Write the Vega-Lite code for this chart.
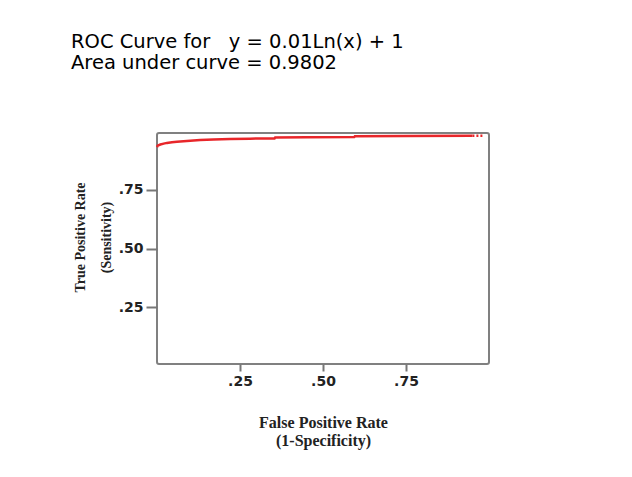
{
  "$schema": "https://vega.github.io/schema/vega-lite/v6.json",
  "width": 332,
  "height": 231,
  "autosize": "none",
  "padding": {"left": 157, "top": 133, "right": 143, "bottom": 113},
  "background": "white",
  "title": {
    "text": ["ROC Curve for \u00a0\u00a0y = 0.01Ln(x) + 1", "Area under curve = 0.9802"],
    "anchor": "start",
    "frame": "group",
    "dx": -86,
    "offset": 57,
    "font": "DejaVu Sans",
    "fontSize": 19.5,
    "fontWeight": "normal",
    "color": "#000000",
    "lineHeight": 21
  },
  "data": {
    "values": [
      {"fpr": 0, "tpr": 0.93, "seg": "main"},
      {"fpr": 0.002, "tpr": 0.936, "seg": "main"},
      {"fpr": 0.01, "tpr": 0.941, "seg": "main"},
      {"fpr": 0.02, "tpr": 0.945, "seg": "main"},
      {"fpr": 0.03, "tpr": 0.948, "seg": "main"},
      {"fpr": 0.045, "tpr": 0.951, "seg": "main"},
      {"fpr": 0.06, "tpr": 0.953, "seg": "main"},
      {"fpr": 0.08, "tpr": 0.955, "seg": "main"},
      {"fpr": 0.1, "tpr": 0.957, "seg": "main"},
      {"fpr": 0.13, "tpr": 0.96, "seg": "main"},
      {"fpr": 0.17, "tpr": 0.962, "seg": "main"},
      {"fpr": 0.22, "tpr": 0.965, "seg": "main"},
      {"fpr": 0.28, "tpr": 0.966, "seg": "main"},
      {"fpr": 0.354, "tpr": 0.967, "seg": "main"},
      {"fpr": 0.356, "tpr": 0.971, "seg": "main"},
      {"fpr": 0.45, "tpr": 0.972, "seg": "main"},
      {"fpr": 0.594, "tpr": 0.973, "seg": "main"},
      {"fpr": 0.596, "tpr": 0.976, "seg": "main"},
      {"fpr": 0.75, "tpr": 0.977, "seg": "main"},
      {"fpr": 0.95, "tpr": 0.978, "seg": "main"},
      {"fpr": 0.95, "tpr": 0.978, "seg": "tail"},
      {"fpr": 0.985, "tpr": 0.978, "seg": "tail"}
    ]
  },
  "encoding": {
    "x": {
      "field": "fpr",
      "type": "quantitative",
      "scale": {"domain": [0, 1], "nice": false, "zero": false},
      "axis": {
        "values": [0.25, 0.5, 0.75],
        "labelExpr": "substring(format(datum.value, '.2f'), 1)",
        "domain": false,
        "grid": false,
        "tickSize": 7,
        "tickWidth": 2,
        "tickColor": "#777777",
        "labelFont": "DejaVu Sans",
        "labelFontWeight": "bold",
        "labelFontSize": 14,
        "labelColor": "#222222",
        "labelPadding": 3,
        "title": ["False Positive Rate", "(1-Specificity)"],
        "titleFont": "Liberation Serif",
        "titleFontWeight": "bold",
        "titleFontSize": 16,
        "titleColor": "#222222",
        "titleLineHeight": 18,
        "titlePadding": 26
      }
    },
    "y": {
      "field": "tpr",
      "type": "quantitative",
      "scale": {"domain": [0.01, 0.99], "nice": false, "zero": false},
      "axis": {
        "values": [0.25, 0.5, 0.75],
        "labelExpr": "substring(format(datum.value, '.2f'), 1)",
        "domain": false,
        "grid": false,
        "tickSize": 11,
        "tickWidth": 2,
        "tickColor": "#777777",
        "labelFont": "DejaVu Sans",
        "labelFontWeight": "bold",
        "labelFontSize": 14,
        "labelColor": "#222222",
        "labelPadding": 3,
        "title": ["True Positive Rate", "(Sensitivity)"],
        "titleFont": "Liberation Serif",
        "titleFontWeight": "bold",
        "titleFontSize": 14,
        "titleColor": "#222222",
        "titleLineHeight": 26,
        "titlePadding": 5,
        "titleY": 104
      }
    }
  },
  "layer": [
    {
      "transform": [{"filter": "datum.seg == 'main'"}],
      "mark": {"type": "line", "color": "#e8262a", "strokeWidth": 2.5}
    },
    {
      "transform": [{"filter": "datum.seg == 'tail'"}],
      "mark": {"type": "line", "color": "#e8262a", "strokeWidth": 2.5, "strokeDash": [2, 2]}
    }
  ],
  "config": {
    "view": {"stroke": "#808080", "strokeWidth": 2, "cornerRadius": 2}
  }
}
